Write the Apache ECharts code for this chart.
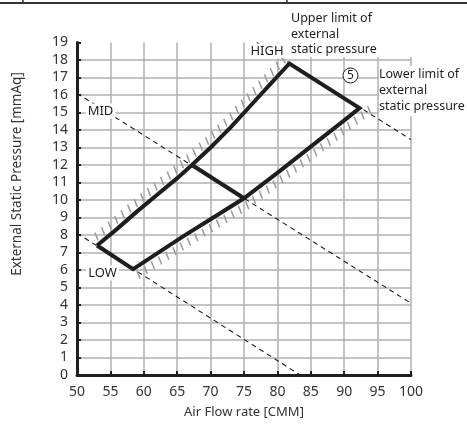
<!DOCTYPE html>
<html><head><meta charset="utf-8">
<script src="https://cdn.jsdelivr.net/npm/echarts@6/dist/echarts.min.js"></script>
<style>html,body{margin:0;padding:0;background:#fff}#c{width:467px;height:426px}</style>
</head><body><div id="c"></div>
<script>
// ---- data ----
const xTicks = [50, 55, 60, 65, 70, 75, 80, 85, 90, 95, 100];
const yTicks = [0,1,2,3,4,5,6,7,8,9,10,11,12,13,14,15,16,17,18,19];
// upper limit of external static pressure (left edge of envelope)
const upperCurve = [[53,7.4],[56,8.35],[59,9.35],[62,10.3],[65,11.25],[67.2,12],[70,13.0],[73,14.15],[76,15.4],[79,16.65],[81.8,17.8]];
// lower limit of external static pressure (right edge of envelope)
const lowerCurve = [[58.4,6.05],[62,6.95],[66,7.95],[70,8.9],[75,10.1],[80,11.55],[85,13.05],[90,14.55],[92.3,15.25]];
// fan speed lines (dashed)
const highLine = [[76.9,19],[100,13.45]];
const midLine = [[50,16.1],[100,4.1]];
const lowLine = [[50,8.1],[83.4,0]];
const midSegment = [[67.2,12],[75,10.1]];
const speedLabels = ['HIGH','MID','LOW'];
const xName = 'Air Flow rate [CMM]';
const yName = 'External Static Pressure [mmAq]';
const upperText = 'Upper limit of\nexternal\nstatic pressure';
const lowerText = 'Lower limit of\nexternal\nstatic pressure';
const circledNo = '5';

const envelope = upperCurve.concat(lowerCurve.slice().reverse()).concat([upperCurve[0]]);
const FONT = '"Noto Sans", sans-serif';
const INK = '#1e1e1e';

function hatch(curve, dir, ext, children, api) {
  const pts = curve.map(p => api.coord(p));
  if (ext > 0) {
    const a = pts[pts.length - 2], b = pts[pts.length - 1];
    const L = Math.hypot(b[0]-a[0], b[1]-a[1]);
    pts.push([b[0] + (b[0]-a[0]) / L * ext, b[1] + (b[1]-a[1]) / L * ext]);
  }
  const th = 68 * Math.PI / 180;
  const dx = dir * Math.cos(th), dy = dir * Math.sin(th);
  const step = 8.6;
  let carry = 3;
  for (let i = 0; i < pts.length - 1; i++) {
    const a = pts[i], b = pts[i+1];
    const L = Math.hypot(b[0]-a[0], b[1]-a[1]);
    let s = carry;
    while (s <= L) {
      const t = s / L;
      const x = a[0] + (b[0]-a[0]) * t, y = a[1] + (b[1]-a[1]) * t;
      children.push({type:'line', shape:{x1:x+dx*3.5, y1:y+dy*3.5, x2:x+dx*12, y2:y+dy*12},
        style:{stroke:'#9a9a9a', lineWidth:1.5}});
      s += step;
    }
    carry = s - L;
  }
}

const chart = echarts.init(document.getElementById('c'), null, {renderer:'canvas'});
const dashStyle = {color: INK, width: 1.1, type: [5, 4]};
chart.setOption({
  animation: false,
  backgroundColor: '#fff',
  grid: {left: 77, right: 56, top: 42.5, bottom: 51, containLabel: false, outerBoundsMode: 'none'},
  xAxis: {
    type: 'value', min: xTicks[0], max: xTicks[xTicks.length-1], interval: xTicks[1]-xTicks[0],
    axisLine: {show: true, onZero: false, lineStyle: {color: INK, width: 3}},
    axisTick: {show: true, inside: true, length: 4, lineStyle: {color: INK, width: 2}},
    axisLabel: {color: '#333', fontSize: 14, fontFamily: FONT, margin: 10},
    splitLine: {show: true, lineStyle: {color: '#b0b0b0', width: 1.5}},
    name: xName, nameLocation: 'middle', nameGap: 31,
    nameTextStyle: {color: '#333', fontSize: 13, fontFamily: FONT}
  },
  yAxis: {
    type: 'value', min: yTicks[0], max: yTicks[yTicks.length-1], interval: yTicks[1]-yTicks[0],
    axisLine: {show: true, onZero: false, lineStyle: {color: INK, width: 3}},
    axisTick: {show: true, inside: true, length: 4, lineStyle: {color: INK, width: 2}},
    axisLabel: {color: '#333', fontSize: 14, fontFamily: FONT, margin: 9},
    splitLine: {show: true, showMaxLine: false, lineStyle: {color: '#b0b0b0', width: 1.5}}
  },
  series: [
    {type:'line', data: lowLine, showSymbol:false, lineStyle: dashStyle, z: 2, silent:true},
    {type:'line', data: midLine, showSymbol:false, lineStyle: dashStyle, z: 2, silent:true},
    {type:'line', data: highLine, showSymbol:false, lineStyle: dashStyle, z: 2, silent:true},
    {type:'custom', coordinateSystem:'cartesian2d', data:[[xTicks[0], yTicks[0]]], silent:true, z: 3, clip:false,
      renderItem: (params, api) => {
        const children = [];
        hatch(upperCurve, -1, 0, children, api);
        hatch(lowerCurve, 1, 12, children, api);
        return {type:'group', children};
      }},
    {type:'line', data: envelope, showSymbol:false, lineStyle:{color: INK, width: 4, join:'miter'}, z: 120, silent:true},
    {type:'line', data: midSegment, showSymbol:false, lineStyle:{color: INK, width: 4}, z: 120, silent:true}
  ],
  graphic: [
    {type:'rect', z: 90, shape:{x:284, y:5, width:131, height:52}, style:{fill:'#fff'}},
    {type:'line', z: 100, shape:{x1:0, y1:3, x2:467, y2:3}, style:{stroke:'#333', lineWidth:2}},
    {type:'line', z: 100, shape:{x1:23, y1:0, x2:23, y2:3}, style:{stroke:'#333', lineWidth:1.5}},
    {type:'line', z: 100, shape:{x1:287, y1:0, x2:287, y2:3}, style:{stroke:'#333', lineWidth:1.5}},
    {type:'text', z: 100, x: 291, y: 11, style:{text: upperText, fill: INK, fontSize: 12.5, fontFamily: FONT, lineHeight: 15.5}},
    {type:'text', z: 100, x: 379, y: 66, style:{text: lowerText, fill: INK, fontSize: 12.5, fontFamily: FONT, lineHeight: 16,
      backgroundColor:'#fff', padding:[0,0,2,0]}},
    {type:'text', z: 100, x: 267, y: 51, style:{text: speedLabels[0], fill: INK, fontSize: 13, fontFamily: FONT,
      align:'center', verticalAlign:'middle', backgroundColor:'#fff', padding:[1,2,1,2]}},
    {type:'text', z: 100, x: 100.5, y: 111, style:{text: speedLabels[1], fill: INK, fontSize: 13, fontFamily: FONT,
      align:'center', verticalAlign:'middle', backgroundColor:'#fff', padding:[1,2,1,2]}},
    {type:'text', z: 100, x: 102.5, y: 273, style:{text: speedLabels[2], fill: INK, fontSize: 13, fontFamily: FONT,
      align:'center', verticalAlign:'middle', backgroundColor:'#fff', padding:[1,2,1,2]}},
    {type:'circle', z: 100, shape:{cx:350.5, cy:75.5, r:7.5}, style:{fill:'#fff', stroke: INK, lineWidth:1}},
    {type:'text', z: 101, x: 350.5, y: 76, style:{text: circledNo, fill: INK, fontSize: 12, fontFamily: FONT,
      align:'center', verticalAlign:'middle'}},
    {type:'text', z: 100, x: 17, y: 174, rotation: Math.PI/2, style:{text: yName, fill:'#333', fontSize: 13.5, fontFamily: FONT,
      align:'center', verticalAlign:'middle'}}
  ]
});
</script></body></html>
